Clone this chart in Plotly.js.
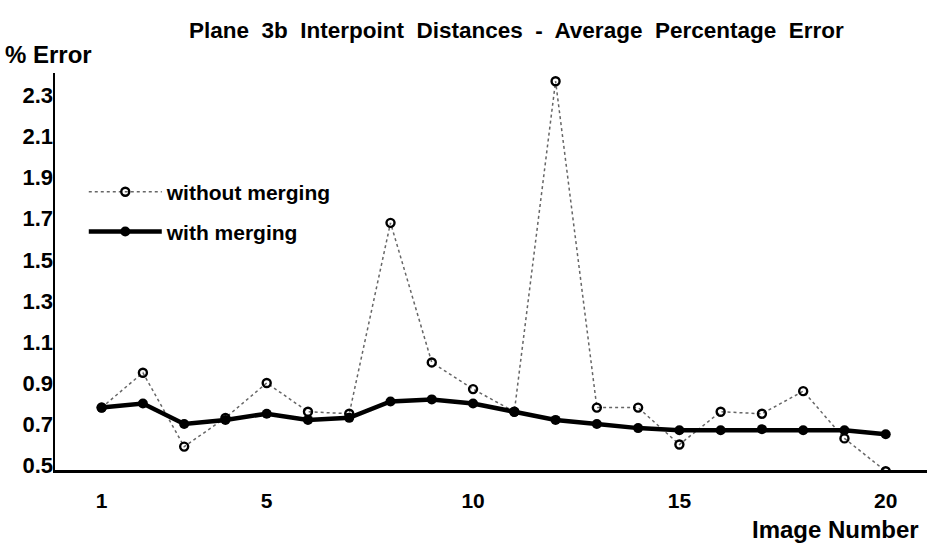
<!DOCTYPE html>
<html>
<head>
<meta charset="utf-8">
<script src="https://cdn.plot.ly/plotly-3.0.1.min.js"></script>
<style>html,body{margin:0;padding:0;background:#fff;}#chart{width:927px;height:548px;}</style>
</head>
<body>
<div id="chart"></div>
<script>
const imageNumbers = [1,2,3,4,5,6,7,8,9,10,11,12,13,14,15,16,17,18,19,20];
const withoutMerging = [0.78,0.95,0.59,0.73,0.90,0.76,0.75,1.68,1.00,0.87,0.76,2.37,0.78,0.78,0.60,0.76,0.75,0.86,0.63,0.47];
const withMerging = [0.78,0.80,0.70,0.72,0.75,0.72,0.73,0.81,0.82,0.80,0.76,0.72,0.70,0.68,0.67,0.67,0.675,0.67,0.67,0.65];
const xTickVals = [1,5,10,15,20];
const yTickVals = [0.5,0.7,0.9,1.1,1.3,1.5,1.7,1.9,2.1,2.3];

const FONT = '"Liberation Sans", Arial, Helvetica, sans-serif';

const traces = [
  {
    x: imageNumbers, y: withoutMerging, name: 'without merging', mode: 'lines+markers',
    line: {color: '#666', width: 1.5, dash: 'dot'},
    marker: {symbol: 'circle-open', size: 8, color: '#000', line: {width: 2.4, color: '#000'}},
    legend: 'legend'
  },
  {
    x: imageNumbers, y: withMerging, name: 'with merging', mode: 'lines+markers',
    line: {color: '#000', width: 4.5},
    marker: {symbol: 'circle', size: 10, color: '#000'},
    legend: 'legend2'
  }
];

const legendBase = {
  bgcolor: 'rgba(0,0,0,0)', borderwidth: 0, xanchor: 'left', yanchor: 'middle',
  font: {family: FONT, size: 21, color: '#000', weight: 'bold'}, itemwidth: 73
};

const layout = {
  width: 927, height: 548,
  margin: {l: 55, r: 0, t: 73, b: 78},
  paper_bgcolor: '#fff', plot_bgcolor: '#fff',
  font: {family: FONT, color: '#000'},
  title: {
    text: '<b>Plane  3b  Interpoint  Distances  -  Average  Percentage  Error</b>',
    font: {family: FONT, size: 22.5, color: '#000'},
    x: 0.557, xanchor: 'center', y: 0.945, yanchor: 'middle'
  },
  xaxis: {
    range: [-0.13, 21.0], tickvals: xTickVals, ticktext: xTickVals.map(String),
    showgrid: false, zeroline: false, showline: true, linecolor: '#000', linewidth: 2.5,
    ticks: '', ticklabelstandoff: 10,
    tickfont: {family: FONT, size: 21, color: '#000', weight: 'bold'},
    title: {text: ''}
  },
  yaxis: {
    range: [0.476, 2.41], tickvals: yTickVals, ticktext: yTickVals.map(v => v.toFixed(1)),
    showgrid: false, zeroline: false, showline: true, linecolor: '#000', linewidth: 2.5,
    ticks: '', ticklabelstandoff: -5,
    tickfont: {family: FONT, size: 22, color: '#000', weight: 'bold'},
    title: {text: ''}
  },
  legend: Object.assign({}, legendBase, {x: 0.033, y: 0.70}),
  legend2: Object.assign({}, legendBase, {x: 0.033, y: 0.60}),
  annotations: [
    {text: '<b>% Error</b>', xref: 'paper', yref: 'paper', x: -0.06, y: 1.008, xanchor: 'left', yanchor: 'bottom',
     showarrow: false, font: {family: FONT, size: 24, color: '#000'}},
    {text: '<b>Image Number</b>', xref: 'paper', yref: 'paper', x: 0.993, y: -0.11, xanchor: 'right', yanchor: 'top',
     showarrow: false, font: {family: FONT, size: 24, color: '#000'}}
  ],
  showlegend: true
};

Plotly.newPlot('chart', traces, layout, {displayModeBar: false, staticPlot: true});
</script>
</body>
</html>
